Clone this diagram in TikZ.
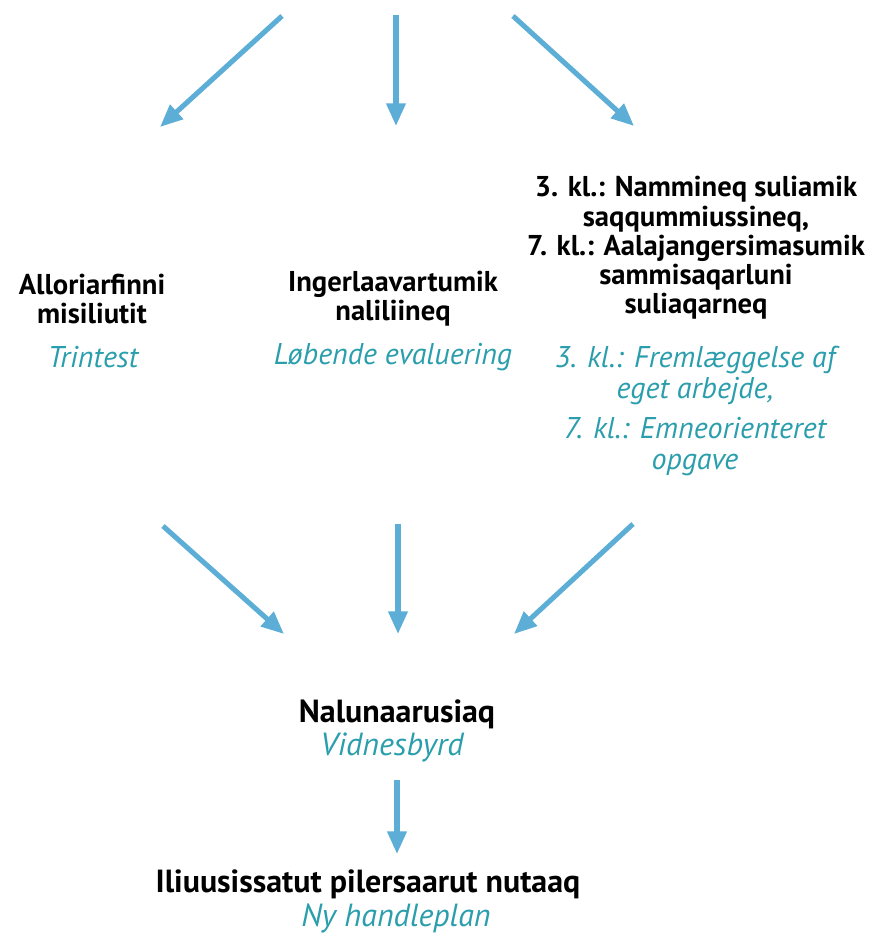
\documentclass[tikz,border=0pt]{standalone}
\usepackage{fontspec}
\setmainfont{PT Sans}
\usetikzlibrary{arrows.meta}
\definecolor{arrowblue}{RGB}{92,174,214}
\definecolor{tealtext}{RGB}{42,158,172}

\begin{document}
\begin{tikzpicture}[x=0.75pt,y=-0.75pt,
    head/.style={font=\bfseries\fontsize{21.5}{22}\selectfont, align=center, inner sep=0pt},
    sub/.style={font=\itshape\fontsize{22.5}{23.5}\selectfont, text=tealtext, align=center, inner sep=0pt},
    big/.style={font=\bfseries\fontsize{24}{26}\selectfont},
    bigsub/.style={font=\itshape\fontsize{24}{26}\selectfont},
    flow/.style={draw=arrowblue, line width=3.8pt, -{Triangle[length=17pt,width=14pt]}}]
    \useasboundingbox (0,0) rectangle (872,951);

    % the three kinds of test
    \node[head] (test) at (92,299) {Alloriarfinni\\misiliutit};
    \node[sub] (testda) at (93,357) {Trintest};
    \node[head] (eval) at (393,299) {Ingerlaavartumik\\naliliineq};
    \node[sub] (evalda) at (393,357) {Løbende evaluering};
    \node[head] (task) at (696,248) {3. kl.: Nammineq suliamik\\saqqummiussineq,\\7. kl.: Aalajangersimasumik\\sammisaqarluni\\suliaqarneq};
    \node[sub] (taskda) at (695,411) {3. kl.: Fremlæggelse af\\eget arbejde,\\[6pt]7. kl.: Emneorienteret\\opgave};

    \node[head, big] (report) at (397,714) {Nalunaarusiaq};
    \node[sub, bigsub] (reportda) at (392,747) {Vidnesbyrd};
    \node[head, big] (plan) at (368,884) {Iliuusissatut pilersaarut nutaaq};
    \node[sub, bigsub] (planda) at (396,918) {Ny handleplan};

    \coordinate (top1) at (282,16);  \coordinate (tip1) at (160,127);
    \coordinate (top2) at (396,15);  \coordinate (tip2) at (396,126);
    \coordinate (top3) at (513,16);  \coordinate (tip3) at (634,126);
    \coordinate (low1) at (163,526); \coordinate (end1) at (284,634);
    \coordinate (low2) at (398,524); \coordinate (end2) at (398,634);
    \coordinate (low3) at (633,524); \coordinate (end3) at (514,634);
    \coordinate (rep) at (397,780);  \coordinate (nxt) at (397,854);

    \foreach \s/\t in {top1/tip1,top2/tip2,top3/tip3,low1/end1,low2/end2,low3/end3,rep/nxt}
        \draw[flow] (\s) -- (\t);
\end{tikzpicture}
\end{document}
